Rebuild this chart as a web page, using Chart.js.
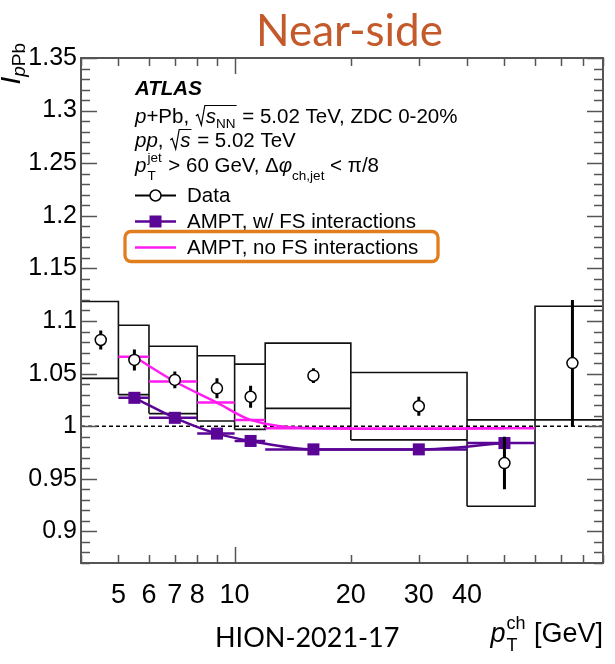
<!DOCTYPE html>
<html>
<head>
<meta charset="utf-8">
<style>
  html, body { margin: 0; padding: 0; background: #fff; }
  #wrap { width: 615px; height: 664px; position: relative; }
</style>
<script src="https://cdn.jsdelivr.net/npm/chart.js@4.4.1/dist/chart.umd.min.js"></script>
</head>
<body>
<div id="wrap"><canvas id="ipPb"></canvas></div>
<script>
// pT^ch bins [GeV]
const binLo = [4, 5, 6, 8, 10, 12, 20, 40, 60];
const binHi = [5, 6, 8, 10, 12, 20, 40, 60, 90];
const binMid = [4.5, 5.5, 7, 9, 11, 16, 30, 50, 75];

// measured I_pPb with stat. and syst. uncertainties
const dataVal = [1.082, 1.063, 1.044, 1.036, 1.028, 1.048, 1.019, 0.965, 1.060];
const dataStat = [0.009, 0.010, 0.008, 0.0095, 0.0105, 0.007, 0.009, 0.025, 0.060];
const dataSys = [0.0365, 0.033, 0.032, 0.031, 0.031, 0.031, 0.032, 0.041, 0.054];

// AMPT predictions (5-60 GeV)
const amptLo = [5, 6, 8, 10, 12, 20, 40];
const amptHi = [6, 8, 10, 12, 20, 40, 60];
const amptMid = [5.5, 7, 9, 11, 16, 30, 50];
const amptFS = [1.027, 1.008, 0.993, 0.986, 0.978, 0.978, 0.984];
const amptNoFS = [1.066, 1.0425, 1.0225, 1.006, 0.998, 0.9975, 0.998];

// axis ranges and labelled ticks
const xRange = [4, 90];
const yRange = [0.87, 1.35];
const xTicks = [5, 6, 7, 8, 10, 20, 30, 40];
const yTicks = [0.9, 0.95, 1, 1.05, 1.1, 1.15, 1.2, 1.25, 1.3, 1.35];

const PURPLE = '#5b0596';
const MAGENTA = '#ff1cf0';
const SANS = '"Liberation Sans", Arial, Helvetica, sans-serif';
const font = (size, style) => (style || '') + ' ' + size + 'px ' + SANS;

// systematic boxes as closed outlines, separated by gaps
const boxPts = [];
binLo.forEach((lo, i) => {
  const hi = binHi[i];
  const y0 = dataVal[i] - dataSys[i], y1 = dataVal[i] + dataSys[i];
  boxPts.push({x: lo, y: y0}, {x: lo, y: y1}, {x: hi, y: y1}, {x: hi, y: y0}, {x: lo, y: y0}, {x: hi, y: null});
});

// vertical stat. error bars
const errPts = [];
binMid.forEach((m, i) => {
  errPts.push({x: m, y: dataVal[i] - dataStat[i]}, {x: m, y: dataVal[i] + dataStat[i]}, {x: m, y: null});
});

// horizontal bin-width bars for the model curves
function binBars(vals) {
  const pts = [];
  vals.forEach((v, i) => pts.push({x: amptLo[i], y: v}, {x: amptHi[i], y: v}, {x: amptHi[i], y: null}));
  return pts;
}

const dataPts = binMid.map((m, i) => ({x: m, y: dataVal[i]}));
const fsPts = amptMid.map((m, i) => ({x: m, y: amptFS[i]}));
const noFsPts = amptMid.map((m, i) => ({x: m, y: amptNoFS[i]}));

// inward ticks on all four sides, plus the frame
const frameTicks = {
  id: 'frameTicks',
  afterDatasetsDraw(chart) {
    const {ctx, chartArea: a, scales: {x, y}} = chart;
    ctx.save();
    ctx.strokeStyle = '#555';
    ctx.lineWidth = 1.5;
    ctx.beginPath();
    for (let k = Math.round(yRange[0] * 100); k <= Math.round(yRange[1] * 100); k++) {
      const py = Math.round(y.getPixelForValue(k / 100)) + 0.5;
      const len = k % 5 === 0 ? 16 : 9;
      ctx.moveTo(a.left, py); ctx.lineTo(a.left + len, py);
      ctx.moveTo(a.right, py); ctx.lineTo(a.right - len, py);
    }
    [1, 10].forEach(d => {
      for (let m = 1; m <= 9; m++) {
        const v = m * d;
        if (v < xRange[0] || v > xRange[1]) continue;
        const px = Math.round(x.getPixelForValue(v)) + 0.5;
        const len = v === 10 ? 16 : 8;
        ctx.moveTo(px, a.bottom); ctx.lineTo(px, a.bottom - len);
        ctx.moveTo(px, a.top); ctx.lineTo(px, a.top + len);
      }
    });
    ctx.stroke();
    ctx.lineWidth = 2;
    ctx.strokeRect(a.left, a.top, a.right - a.left, a.bottom - a.top);
    ctx.restore();
  }
};

// draws a list of [text, font, dy] runs and returns the end x
function runs(ctx, list, x, y) {
  let cx = x;
  list.forEach(r => {
    ctx.font = r[1];
    ctx.fillText(r[0], cx, y + (r[2] || 0));
    cx += ctx.measureText(r[0]).width;
  });
  return cx;
}

// sqrt sign with overline over the given runs
function sqrtRuns(ctx, list, x, y) {
  const start = x + 11;
  const end = runs(ctx, list, start, y);
  ctx.beginPath();
  ctx.lineWidth = 1.2;
  ctx.moveTo(x + 1, y - 7);
  ctx.lineTo(x + 3, y - 8.5);
  ctx.lineTo(x + 6.5, y + 2);
  ctx.lineTo(x + 10, y - 17.5);
  ctx.lineTo(end + 1, y - 17.5);
  ctx.stroke();
  return end + 1;
}

const annotations = {
  id: 'annotations',
  afterDraw(chart) {
    const ctx = chart.ctx;
    ctx.save();
    ctx.fillStyle = '#000';
    ctx.strokeStyle = '#000';
    ctx.textBaseline = 'alphabetic';
    ctx.textAlign = 'left';

    // panel title
    ctx.fillStyle = '#c45a2b';
    ctx.font = '44px Lato, "Open Sans", sans-serif';
    ctx.textAlign = 'center';
    ctx.fillText('Near-side', 349.5, 46);
    ctx.fillStyle = '#000';
    ctx.font = '27px Lato, "Open Sans", sans-serif';
    ctx.textAlign = 'left';
    ctx.fillText('HION-2021-17', 215, 647);

    // ATLAS label block
    const fs = 20.5, sub = 13.5;
    const L = 135;
    ctx.font = font(fs, 'italic bold');
    ctx.fillText('ATLAS', L, 95);

    let cx = runs(ctx, [['p', font(fs, 'italic')], ['+Pb, ', font(fs)]], L, 123);
    cx = sqrtRuns(ctx, [['s', font(fs, 'italic')], ['NN', font(sub), 5]], cx, 123);
    runs(ctx, [[' = 5.02 TeV, ZDC 0-20%', font(fs)]], cx, 123);

    cx = runs(ctx, [['pp', font(fs, 'italic')], [', ', font(fs)]], L, 147);
    cx = sqrtRuns(ctx, [['s', font(fs, 'italic')]], cx, 147);
    runs(ctx, [[' = 5.02 TeV', font(fs)]], cx, 147);

    cx = runs(ctx, [['p', font(fs, 'italic')]], L, 172);
    ctx.font = font(sub);
    ctx.fillText('jet', cx + 1, 172 - 10);
    ctx.fillText('T', cx + 1, 172 + 8);
    cx += ctx.measureText('jet').width + 2;
    cx = runs(ctx, [[' > 60 GeV, \u0394', font(fs)], ['\u03c6', font(fs, 'italic')], ['ch,jet', font(sub), 8]], cx, 172);
    runs(ctx, [[' < \u03c0/8', font(fs)]], cx, 172);

    // legend entries
    const TX = 187, x0 = 135, x1 = 176, xm = 155.5;
    ctx.font = font(fs);
    ctx.lineWidth = 2;
    ctx.beginPath(); ctx.moveTo(x0, 195.5); ctx.lineTo(x1, 195.5); ctx.stroke();
    ctx.beginPath(); ctx.arc(xm, 195.5, 5.5, 0, Math.PI * 2);
    ctx.fillStyle = '#fff'; ctx.fill();
    ctx.lineWidth = 1.5; ctx.stroke();
    ctx.fillStyle = '#000';
    ctx.fillText('Data', TX, 202);

    ctx.strokeStyle = PURPLE; ctx.fillStyle = PURPLE; ctx.lineWidth = 2.5;
    ctx.beginPath(); ctx.moveTo(x0, 221.5); ctx.lineTo(x1, 221.5); ctx.stroke();
    ctx.fillRect(xm - 6, 221.5 - 6, 12, 12);
    ctx.fillStyle = '#000';
    ctx.fillText('AMPT, w/ FS interactions', TX, 227.5);

    ctx.strokeStyle = MAGENTA;
    ctx.beginPath(); ctx.moveTo(x0, 247.5); ctx.lineTo(x1, 247.5); ctx.stroke();
    ctx.fillText('AMPT, no FS interactions', TX, 253.5);

    // highlight frame round the last entry
    ctx.strokeStyle = '#e07d1c';
    ctx.lineWidth = 3.3;
    ctx.beginPath();
    ctx.roundRect(125, 231.5, 313, 30, 6);
    ctx.stroke();

    // y axis title, rotated
    ctx.save();
    ctx.translate(20, 42);
    ctx.rotate(-Math.PI / 2);
    ctx.fillStyle = '#000';
    ctx.font = font(28, 'italic');
    const wI = ctx.measureText('I').width;
    ctx.font = font(19, 'italic');
    const wp = ctx.measureText('p').width;
    ctx.font = font(19);
    const wPb = ctx.measureText('Pb').width;
    const start = -(wI + wp + wPb + 1);
    runs(ctx, [['I', font(28, 'italic')], ['p', font(19, 'italic'), 5], ['Pb', font(19), 5]], start, 0);
    ctx.restore();

    // x axis title, right aligned
    ctx.font = font(27, 'italic');
    const wpx = ctx.measureText('p').width;
    ctx.font = font(18);
    const wch = ctx.measureText('ch').width;
    ctx.font = font(27);
    const wG = ctx.measureText(' [GeV]').width;
    let bx = 603 - (wpx + wch + 2 + wG);
    ctx.fillStyle = '#000';
    bx = runs(ctx, [['p', font(27, 'italic')]], bx, 642);
    ctx.font = font(18);
    ctx.fillText('ch', bx + 1, 642 - 13);
    ctx.fillText('T', bx + 1, 642 + 9);
    bx += wch + 2;
    runs(ctx, [[' [GeV]', font(27)]], bx, 642);

    ctx.restore();
  }
};

const ctx = document.getElementById('ipPb').getContext('2d');

const chart = new Chart(ctx, {
  type: 'line',
  data: {
    datasets: [
      {
        // data points, open circles
        data: dataPts, showLine: false,
        pointStyle: 'circle', pointRadius: 5.5, pointBorderWidth: 1.5,
        pointBackgroundColor: '#fff', pointBorderColor: '#000'
      },
      {
        // statistical uncertainties
        data: errPts, borderColor: '#000', borderWidth: 3,
        pointRadius: 0, spanGaps: false, tension: 0
      },
      {
        data: fsPts, showLine: false,
        pointStyle: 'rect', pointRadius: 8.5,
        pointBackgroundColor: PURPLE, pointBorderColor: PURPLE, pointBorderWidth: 0
      },
      {
        data: binBars(amptFS), borderColor: PURPLE, borderWidth: 2.5,
        pointRadius: 0, spanGaps: false, tension: 0
      },
      {
        data: fsPts, borderColor: PURPLE, borderWidth: 2.5,
        pointRadius: 0, cubicInterpolationMode: 'monotone'
      },
      {
        data: binBars(amptNoFS), borderColor: MAGENTA, borderWidth: 2.5,
        pointRadius: 0, spanGaps: false, tension: 0
      },
      {
        data: noFsPts, borderColor: MAGENTA, borderWidth: 2.5,
        pointRadius: 0, cubicInterpolationMode: 'monotone'
      },
      {
        // unity reference
        data: [{x: xRange[0], y: 1}, {x: xRange[1], y: 1}],
        borderColor: '#000', borderWidth: 1.5, borderDash: [4, 3],
        pointRadius: 0
      },
      {
        // systematic uncertainty boxes
        data: boxPts, borderColor: '#111', borderWidth: 1.6,
        pointRadius: 0, spanGaps: false, tension: 0, borderJoinStyle: 'miter'
      }
    ]
  },
  options: {
    responsive: true,
    maintainAspectRatio: false,
    devicePixelRatio: 1,
    animation: false,
    layout: { padding: { top: 58, right: 12, left: 0, bottom: 0 } },
    plugins: { legend: { display: false }, tooltip: { enabled: false } },
    scales: {
      x: {
        type: 'logarithmic',
        min: xRange[0], max: xRange[1],
        afterBuildTicks: (scale) => { scale.ticks = xTicks.map(v => ({value: v})); },
        afterFit: (scale) => { scale.height = 101; },
        grid: { display: false, drawTicks: false },
        border: { display: false },
        ticks: {
          autoSkip: false, maxRotation: 0, padding: 16,
          color: '#000', font: { family: SANS, size: 27 },
          callback: (v) => String(v)
        }
      },
      y: {
        type: 'linear',
        min: yRange[0], max: yRange[1],
        afterBuildTicks: (scale) => { scale.ticks = yTicks.map(v => ({value: v})); },
        afterFit: (scale) => { scale.width = 81; },
        grid: { display: false, drawTicks: false },
        border: { display: false },
        ticks: {
          padding: 4, color: '#000', font: { family: SANS, size: 25 },
          callback: (v) => String(v)
        }
      }
    }
  },
  plugins: [frameTicks, annotations]
});
</script>
</body>
</html>
